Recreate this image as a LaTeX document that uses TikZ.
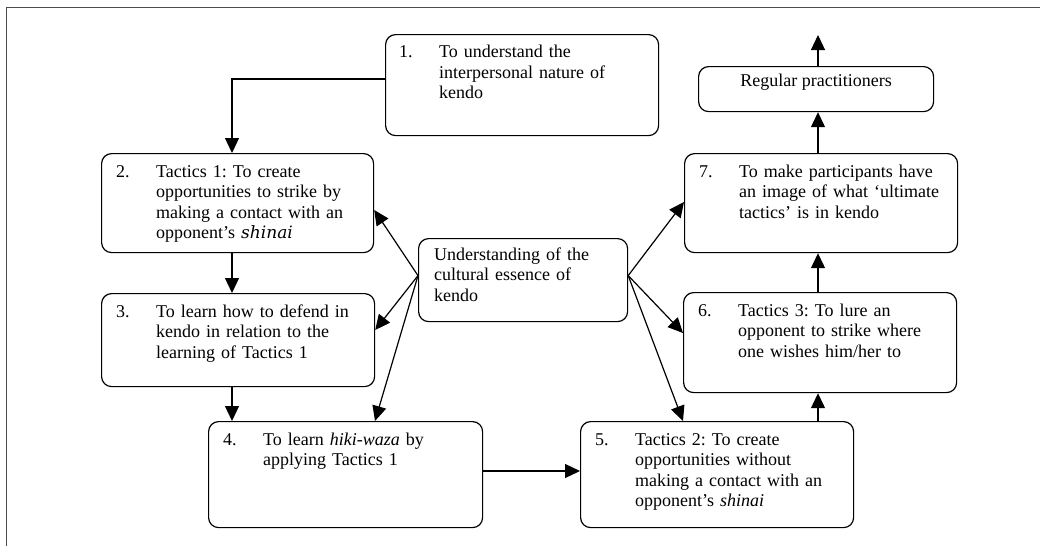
\documentclass[tikz,border=0pt]{standalone}
\usepackage{fontspec}
\setmainfont{Liberation Serif}
\newfontfamily\altital{DejaVu Serif}
\usetikzlibrary{arrows.meta,calc}
\newcommand\numlbl[1]{\makebox[40pt][l]{#1}}
\newcommand\hind{\hspace*{40pt}}
\frenchspacing
\begin{document}
\begin{tikzpicture}[x=1pt,y=-1pt,
  boxnode/.style={draw, rounded corners=10pt, line width=1.2pt, inner sep=0pt, anchor=north west},
  txt/.style={font=\fontsize{18}{20.5}\selectfont, inner sep=0pt, align=left, anchor=base west, text width=#1},
  conn/.style={-{Triangle[length=15pt,width=14pt]}, line width=1.2pt},
  frameline/.style={draw=black!70, line width=1pt}]
\useasboundingbox (0,0) rectangle (1040,546);
% frame
\coordinate (fa) at (6,546);
\coordinate (fb) at (6,7);
\coordinate (fc) at (1040,7);
\draw[frameline] (fa) -- (fb) -- (fc);
% boxes
\node[boxnode, minimum width=273pt, minimum height=101pt] (b1) at (385,34) {};
\node[boxnode, minimum width=272pt, minimum height=99pt] (b2) at (101,153) {};
\node[boxnode, minimum width=273pt, minimum height=93pt] (b3) at (101,293) {};
\node[boxnode, minimum width=274pt, minimum height=106pt] (b4) at (208,421) {};
\node[boxnode, minimum width=273pt, minimum height=106pt] (b5) at (580,421) {};
\node[boxnode, minimum width=273pt, minimum height=100pt] (b6) at (683,292) {};
\node[boxnode, minimum width=273pt, minimum height=99pt] (b7) at (684,153) {};
\node[boxnode, minimum width=235pt, minimum height=45pt] (reg) at (698,66) {};
\node[boxnode, minimum width=209pt, minimum height=83pt] (cen) at (418,238) {};
% texts
\node[txt=260pt] (t1) at ($(b1.north west)+(14,23.5)$)
  {\numlbl{1.}To understand the\\\hind interpersonal nature of\\\hind kendo};
\node[txt=260pt] (t2) at ($(b2.north west)+(15,24)$)
  {\numlbl{2.}Tactics 1: To create\\\hind opportunities to strike by\\\hind making a contact with an\\\hind opponent’s {\altital\itshape\fontsize{17}{20.5}\selectfont shinai}};
\node[txt=260pt] (t3) at ($(b3.north west)+(15,24)$)
  {\numlbl{3.}To learn how to defend in\\\hind kendo in relation to the\\\hind learning of Tactics 1};
\node[txt=260pt] (t4) at ($(b4.north west)+(15,24)$)
  {\numlbl{4.}To learn \textit{hiki-waza} by\\\hind applying Tactics 1};
\node[txt=260pt] (t5) at ($(b5.north west)+(15,24)$)
  {\numlbl{5.}Tactics 2: To create\\\hind opportunities without\\\hind making a contact with an\\\hind opponent’s \textit{shinai}};
\node[txt=260pt] (t6) at ($(b6.north west)+(15,24)$)
  {\numlbl{6.}Tactics 3: To lure an\\\hind opponent to strike where\\\hind one wishes him/her to};
\node[txt=260pt] (t7) at ($(b7.north west)+(15,24)$)
  {\numlbl{7.}To make participants have\\\hind an image of what ‘ultimate\\\hind tactics’ is in kendo};
\node[font=\fontsize{18}{20.5}\selectfont, inner sep=0pt, anchor=base] (treg) at ($(reg.north)+(0,20)$) {Regular practitioners};
\node[txt=190pt] (tc) at ($(cen.north west)+(16,22)$)
  {Understanding of the\\cultural essence of\\kendo};
% helper coordinates
\coordinate (colL) at (232,0);
\coordinate (colR) at (818,0);
\coordinate (topend) at (818,35);
\coordinate (row1) at (0,79);
\coordinate (row45) at (0,471);
\coordinate (cL) at ($(cen.west)+(0,-4.5)$);
\coordinate (cR) at ($(cen.east)+(0,-4.5)$);
% connectors
\draw[conn] (b1.west |- row1) -| (b2.north -| colL);
\draw[conn] (b2.south -| colL) -- (b3.north -| colL);
\draw[conn] (b3.south -| colL) -- (b4.north -| colL);
\draw[conn] (b4.east |- row45) -- (b5.west |- row45);
\draw[conn] (b5.north -| colR) -- (b6.south -| colR);
\draw[conn] (b6.north -| colR) -- (b7.south -| colR);
\draw[conn] (b7.north -| colR) -- (reg.south -| colR);
\draw[conn] (reg.north -| colR) -- (topend);
\coordinate (p2) at (0,210);
\coordinate (p3) at (0,330);
\coordinate (p4) at (375,0);
\coordinate (p7) at (0,202);
\coordinate (p6) at (0,333);
\coordinate (p5) at (683,0);
\draw[conn] (cL) -- (b2.east |- p2);
\draw[conn] (cL) -- (b3.east |- p3);
\draw[conn] (cL) -- (b4.north -| p4);
\draw[conn] (cR) -- (b7.west |- p7);
\draw[conn] (cR) -- (b6.west |- p6);
\draw[conn] (cR) -- (b5.north -| p5);
\end{tikzpicture}
\end{document}
